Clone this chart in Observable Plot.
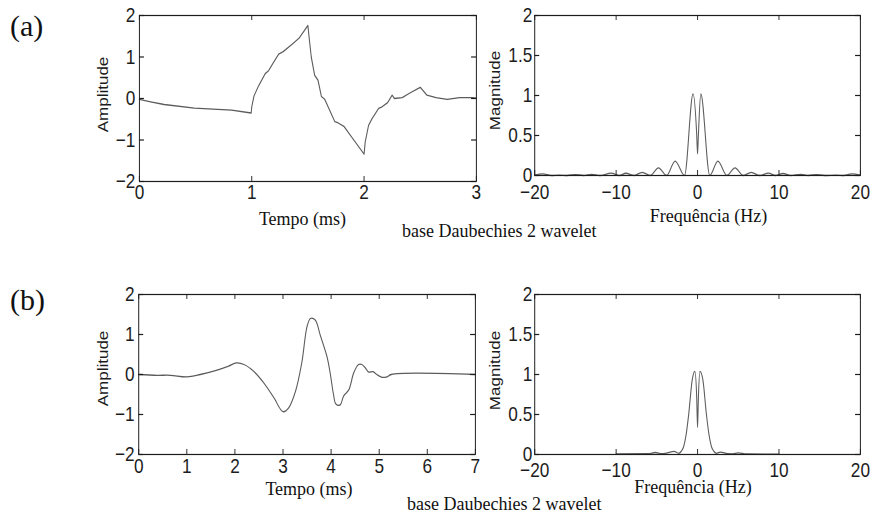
<!DOCTYPE html>
<html>
<head>
<meta charset="utf-8">
<script src="https://cdn.jsdelivr.net/npm/d3@7"></script>
<script src="https://cdn.jsdelivr.net/npm/@observablehq/plot@0.6"></script>
<style>
  html, body { margin: 0; padding: 0; background: #fff; }
  #wrap { position: relative; width: 872px; height: 514px; overflow: hidden; background: #fff; }
  #wrap > svg.panel { position: absolute; transform-origin: 0 0; }
  #overlay { position: absolute; left: 0; top: 0; pointer-events: none; }
</style>
</head>
<body>
<div id="wrap"></div>
<script>
// ---- data ----
// (a) time signal
const timeA = [0, 0.1, 0.22, 0.49, 0.82, 0.995, 1.0, 1.02, 1.06, 1.12, 1.15, 1.19, 1.24, 1.28, 1.37, 1.42, 1.5, 1.51, 1.53, 1.56, 1.59, 1.62, 1.65, 1.74, 1.77, 1.82, 1.89, 2.0, 2.01, 2.04, 2.07, 2.13, 2.16, 2.21, 2.25, 2.27, 2.34, 2.4, 2.5, 2.56, 2.64, 2.74, 2.85, 2.97, 3.0];
const ampA  = [-0.02, -0.08, -0.145, -0.23, -0.28, -0.35, -0.2, 0.06, 0.3, 0.6, 0.67, 0.85, 1.07, 1.13, 1.33, 1.45, 1.76, 1.49, 1.0, 0.56, 0.44, 0.05, -0.02, -0.56, -0.59, -0.67, -0.93, -1.34, -1.05, -0.65, -0.49, -0.24, -0.2, -0.1, 0.08, 0, 0.02, 0.12, 0.27, 0.08, 0.02, -0.02, 0.02, 0.02, 0.01];
// (a) spectrum
const freqA = [-20, -19, -18, -17, -16, -15, -14, -13, -12, -10.6, -9.6, -8.8, -7.8, -6.8, -5.8, -4.8, -3.8, -2.75, -1.6, -0.55, -0.1, 0, 0.1, 0.4, 1.5, 2.5, 3.6, 4.6, 5.6, 6.6, 7.6, 8.7, 9.6, 10.5, 11.4, 12.7, 13.6, 14.6, 15.6, 17, 18, 18.9, 20];
const magA  = [0.005, 0.02, 0, 0.005, 0, 0.012, 0, 0.015, 0, 0.03, 0, 0.028, 0, 0.04, 0, 0.095, 0, 0.18, 0, 1.02, 0.5, 0.27, 0.5, 1.02, 0, 0.18, 0, 0.095, 0, 0.04, 0, 0.03, 0, 0.025, 0, 0.015, 0, 0.012, 0, 0.005, 0, 0.02, 0.005];
// (b) time signal
const timeB = [0, 0.38, 0.66, 1.0, 1.28, 1.63, 1.87, 2.03, 2.19, 2.39, 2.6, 2.81, 3.0, 3.12, 3.26, 3.39, 3.5, 3.57, 3.67, 3.78, 3.92, 3.98, 4.05, 4.1, 4.19, 4.26, 4.37, 4.47, 4.57, 4.64, 4.71, 4.78, 4.87, 4.95, 5.06, 5.16, 5.25, 7];
const ampB  = [0, -0.02, -0.02, -0.06, 0, 0.11, 0.21, 0.29, 0.25, 0.08, -0.21, -0.58, -0.93, -0.83, -0.42, 0.29, 1.2, 1.4, 1.36, 0.96, 0.42, 0.04, -0.5, -0.74, -0.76, -0.54, -0.38, 0.04, 0.25, 0.25, 0.17, 0.06, 0.07, 0, -0.07, -0.06, 0, 0];
// (b) spectrum
const freqB = [-10, -6, -5.2, -4.4, -3.7, -2.9, -2.3, -2.0, -1.7, -1.4, -1.07, -0.66, -0.33, -0.1, 0, 0.1, 0.29, 0.66, 1.07, 1.4, 1.7, 2.0, 2.3, 2.8, 3.7, 4.3, 5.0, 6, 10];
const magB  = [0.008, 0.01, 0.025, 0.01, 0.02, 0.04, 0.015, 0.04, 0.1, 0.25, 0.52, 0.93, 1.04, 0.7, 0.34, 0.7, 1.04, 0.93, 0.52, 0.25, 0.1, 0.04, 0.015, 0.03, 0.01, 0.008, 0.02, 0.006, 0.005];

// tick values
const ticksTimeA = [0, 1, 2, 3];
const ticksTimeB = [0, 1, 2, 3, 4, 5, 6, 7];
const ticksAmp   = [-2, -1, 0, 1, 2];
const ticksFreq  = [-20, -10, 0, 10, 20];
const ticksMag   = [0, 0.5, 1, 1.5, 2];

// text
const panelTags = ["(a)", "(b)"];
const xTitleTime = "Tempo (ms)";
const xTitleFreq = "Frequência (Hz)";
const yTitleAmp = "Amplitude";
const yTitleMag = "Magnitude";
const caption = "base Daubechies 2 wavelet";

// ---- drawing ----
const C = 0.82; // horizontal compression of the figure
const wrap = document.getElementById("wrap");
const fmt = d3.format("~g");

function panel({xs, ys, xDomain, yDomain, xTicks, yTicks, curve, L, R, T, B, left, top, mr, mb, xpad, ypad, ylabel, ldx, ldy}) {
  const marginLeft = (L - left) / C;
  const innerW = (R - L) / C;
  const marginRight = mr / C;
  const width = marginLeft + innerW + marginRight;
  const marginTop = T - top;
  const innerH = B - T;
  const marginBottom = mb;
  const height = marginTop + innerH + marginBottom;
  const data = xs.map((x, i) => ({x, y: ys[i]}));
  const ink = "#1c1c1c";
  const svg = Plot.plot({
    width, height, marginLeft, marginRight, marginTop, marginBottom,
    x: {domain: xDomain},
    y: {domain: yDomain},
    style: {fontFamily: "'Liberation Sans', Arial, sans-serif", color: ink, background: "transparent", overflow: "visible"},
    marks: [
      Plot.line(data, {x: "x", y: "y", stroke: "#5c5c5c", strokeWidth: 1.3, curve}),
      Plot.frame({stroke: ink, strokeWidth: 1.2}),
      Plot.tickX(xTicks, {x: d => d, insetTop: innerH - 5, stroke: ink}),
      Plot.tickX(xTicks, {x: d => d, insetBottom: innerH - 5, stroke: ink}),
      Plot.tickY(yTicks, {y: d => d, insetRight: innerW - 6, stroke: ink, strokeWidth: 1.2}),
      Plot.tickY(yTicks, {y: d => d, insetLeft: innerW - 6, stroke: ink, strokeWidth: 1.2}),
      Plot.axisX(xTicks, {tickSize: 0, tickPadding: xpad, fontSize: 21, label: null, tickFormat: fmt}),
      Plot.axisY(yTicks, {tickSize: 0, tickPadding: ypad, fontSize: 21, label: null, tickFormat: fmt}),
      Plot.text([ylabel], {text: d => d, frameAnchor: "left", textAnchor: "middle", lineAnchor: "middle", rotate: -90, dx: ldx, dy: ldy, fontSize: 17, fill: ink})
    ]
  });
  svg.classList.add("panel");
  svg.style.left = left + "px";
  svg.style.top = top + "px";
  svg.style.transform = `scaleX(${C})`;
  wrap.appendChild(svg);
}

panel({xs: timeA, ys: ampA, xDomain: [0, 3], yDomain: [-2, 2], xTicks: ticksTimeA, yTicks: ticksAmp, curve: "linear",
  L: 139, R: 476, T: 15, B: 181, left: 90, top: 0, mr: 14, mb: 26, xpad: 3, ypad: 5, ylabel: yTitleAmp, ldx: -44, ldy: -4});
panel({xs: freqA, ys: magA, xDomain: [-20, 20], yDomain: [0, 2], xTicks: ticksFreq, yTicks: ticksMag, curve: "monotone-x",
  L: 534.3, R: 860, T: 15, B: 175, left: 470, top: 0, mr: 12, mb: 30, xpad: 9, ypad: 3, ylabel: yTitleMag, ldx: -48, ldy: -5});
panel({xs: timeB, ys: ampB, xDomain: [0, 7], yDomain: [-2, 2], xTicks: ticksTimeB, yTicks: ticksAmp, curve: "catmull-rom",
  L: 138.3, R: 475, T: 294, B: 454, left: 90, top: 280, mr: 14, mb: 26, xpad: 4, ypad: 5, ylabel: yTitleAmp, ldx: -43, ldy: -6});
panel({xs: freqB, ys: magB, xDomain: [-20, 20], yDomain: [0, 2], xTicks: ticksFreq, yTicks: ticksMag, curve: "monotone-x",
  L: 534.3, R: 860, T: 294, B: 454, left: 470, top: 280, mr: 12, mb: 30, xpad: 7.5, ypad: 3, ylabel: yTitleMag, ldx: -48, ldy: -4});

// serif document text
const NS = "http://www.w3.org/2000/svg";
const ov = document.createElementNS(NS, "svg");
ov.setAttribute("id", "overlay");
ov.setAttribute("width", 872);
ov.setAttribute("height", 514);
const serifTexts = [
  {t: panelTags[0], x: 10, y: 36, s: 30, a: "start"},
  {t: panelTags[1], x: 10, y: 310, s: 30, a: "start"},
  {t: xTitleTime, x: 302.5, y: 225, s: 18, a: "middle"},
  {t: xTitleFreq, x: 708.5, y: 222, s: 18, a: "middle"},
  {t: caption, x: 402, y: 237, s: 18, a: "start"},
  {t: xTitleTime, x: 309, y: 495, s: 18, a: "middle"},
  {t: xTitleFreq, x: 693, y: 493, s: 18, a: "middle"},
  {t: caption, x: 407, y: 510, s: 18, a: "start"}
];
for (const d of serifTexts) {
  const el = document.createElementNS(NS, "text");
  el.setAttribute("x", d.x);
  el.setAttribute("y", d.y);
  el.setAttribute("font-family", "'Liberation Serif', 'Times New Roman', serif");
  el.setAttribute("font-size", d.s);
  el.setAttribute("text-anchor", d.a);
  el.setAttribute("fill", "#111");
  el.textContent = d.t;
  ov.appendChild(el);
}
wrap.appendChild(ov);
</script>
</body>
</html>
